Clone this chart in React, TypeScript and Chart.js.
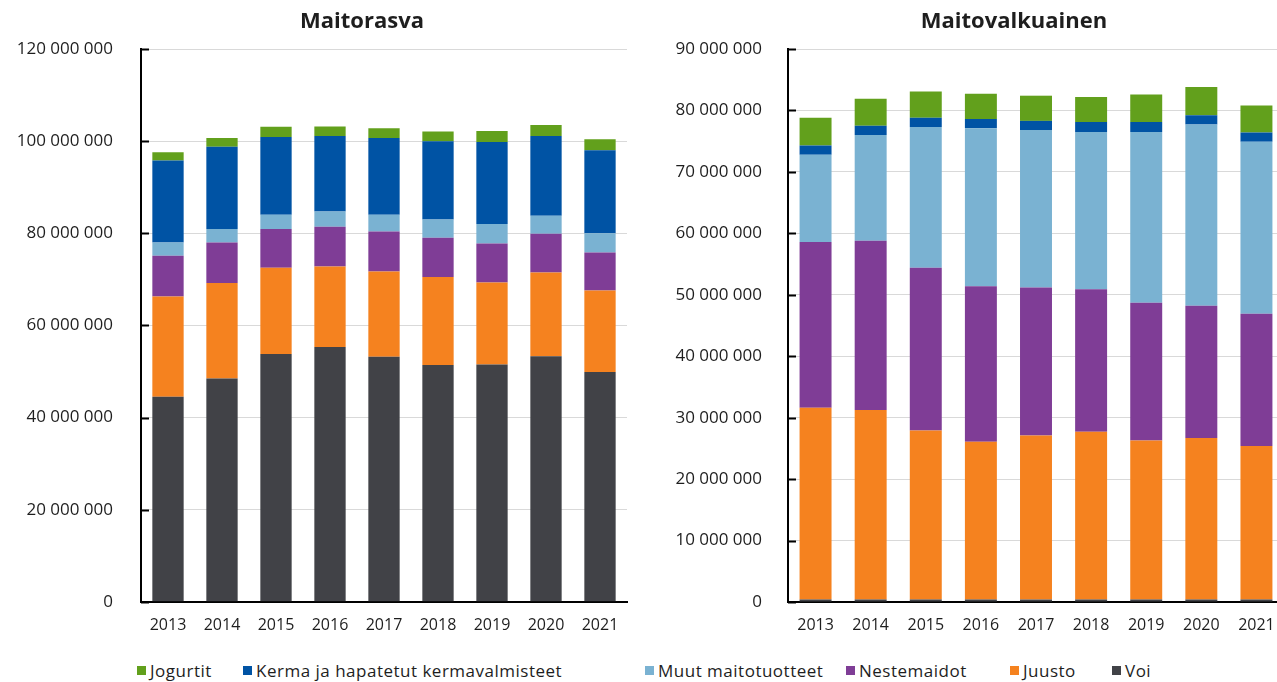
import React, { useEffect, useRef } from "react";
import { Chart, registerables } from "chart.js";

Chart.register(...registerables);

const years = ["2013", "2014", "2015", "2016", "2017", "2018", "2019", "2020", "2021"];

const seriesNames = ["Voi", "Juusto", "Nestemaidot", "Muut maitotuotteet", "Kerma ja hapatetut kermavalmisteet", "Jogurtit"];
const seriesColors = ["#414247", "#f5821f", "#7f3d96", "#7ab2d2", "#0053a4", "#62a01c"];
const legendOrder = [5, 4, 3, 2, 1, 0];

// Maitorasva (million units)
const rasvaVoi = [44.5, 48.5, 53.8, 55.3, 53.2, 51.4, 51.5, 53.3, 49.9];
const rasvaJuusto = [21.8, 20.7, 18.7, 17.5, 18.5, 19.1, 17.8, 18.2, 17.7];
const rasvaNeste = [8.8, 8.8, 8.4, 8.6, 8.7, 8.5, 8.5, 8.4, 8.2];
const rasvaMuut = [2.9, 2.9, 3.1, 3.3, 3.6, 4.0, 4.2, 3.9, 4.2];
const rasvaKerma = [17.8, 17.9, 16.9, 16.4, 16.7, 17.0, 17.8, 17.3, 18.0];
const rasvaJogurtit = [1.8, 1.9, 2.2, 2.1, 2.1, 2.1, 2.4, 2.4, 2.4];

// Maitovalkuainen (million units)
const valkVoi = [0.4, 0.4, 0.4, 0.4, 0.4, 0.4, 0.4, 0.4, 0.4];
const valkJuusto = [31.2, 30.85, 27.5, 25.7, 26.7, 27.3, 25.9, 26.3, 25.0];
const valkNeste = [27.0, 27.55, 26.5, 25.3, 24.1, 23.2, 22.4, 21.5, 21.5];
const valkMuut = [14.2, 17.2, 22.9, 25.7, 25.6, 25.6, 27.8, 29.5, 28.0];
const valkKerma = [1.5, 1.5, 1.5, 1.5, 1.5, 1.6, 1.6, 1.5, 1.5];
const valkJogurtit = [4.5, 4.4, 4.3, 4.1, 4.1, 4.1, 4.5, 4.6, 4.4];

const rasvaSeries = [rasvaVoi, rasvaJuusto, rasvaNeste, rasvaMuut, rasvaKerma, rasvaJogurtit];
const valkSeries = [valkVoi, valkJuusto, valkNeste, valkMuut, valkKerma, valkJogurtit];

const rasvaMax = 120000000;
const rasvaStep = 20000000;
const valkMax = 90000000;
const valkStep = 10000000;

const FONT = "'Open Sans', sans-serif";
const TEXT = "#1e1e1e";

function fmt(v: number): string {
  return String(Math.round(v)).replace(/\B(?=(\d{3})+(?!\d))/g, " ");
}

const innerTicks = {
  id: "innerTicks",
  afterDatasetsDraw(chart: any) {
    const y = chart.scales.y;
    const ctx = chart.ctx;
    const left = chart.chartArea.left;
    ctx.save();
    ctx.strokeStyle = "#000";
    ctx.lineWidth = 2;
    y.ticks.forEach((t: any) => {
      const py = Math.round(y.getPixelForValue(t.value)) + 0.5;
      ctx.beginPath();
      ctx.moveTo(left, py);
      ctx.lineTo(left + 8, py);
      ctx.stroke();
    });
    ctx.restore();
  },
};

const offsetTitle = {
  id: "offsetTitle",
  afterDraw(chart: any, _args: any, opts: any) {
    const ctx = chart.ctx;
    const area = chart.chartArea;
    ctx.save();
    ctx.font = "bold 22px " + FONT;
    ctx.fillStyle = TEXT;
    ctx.textAlign = "center";
    ctx.textBaseline = "middle";
    ctx.fillText(opts.text, (area.left + area.right) / 2 + opts.shift, 22);
    ctx.restore();
  },
};

function makeConfig(title: string, series: number[][], max: number, step: number, yWidth: number, labelPad: number, padRight: number) {
  return {
    type: "bar" as const,
    data: {
      labels: years,
      datasets: series.map((s, i) => ({
        label: seriesNames[i],
        data: s.map((v) => v * 1000000),
        backgroundColor: seriesColors[i],
        borderWidth: 0,
        barPercentage: 0.58,
        categoryPercentage: 1,
      })),
    },
    options: {
      animation: false,
      responsive: false,
      maintainAspectRatio: false,
      layout: { padding: { left: 0, right: padRight, top: 49, bottom: 0 } },
      plugins: {
        legend: { display: false },
        tooltip: { enabled: false },
        title: { display: false },
        offsetTitle: { text: title, shift: -22 },
      },
      scales: {
        x: {
          stacked: true,
          grid: { display: false, drawTicks: false },
          border: { display: true, color: "#000", width: 2 },
          ticks: { color: TEXT, font: { family: FONT, size: 16 }, padding: 14, maxRotation: 0 },
          afterFit(scale: any) {
            scale.height = 38;
          },
        },
        y: {
          stacked: true,
          min: 0,
          max: max,
          grid: { color: "#d9d9d9", lineWidth: 1, drawTicks: false },
          border: { display: true, color: "#000", width: 2 },
          ticks: {
            stepSize: step,
            color: TEXT,
            font: { family: FONT, size: 17 },
            padding: labelPad,
            callback: (v: any) => fmt(Number(v)),
          },
          afterFit(scale: any) {
            scale.width = yWidth;
          },
        },
      },
    },
    plugins: [innerTicks, offsetTitle],
  };
}

function BarChart(props: { title: string; series: number[][]; max: number; step: number; yWidth: number; labelPad: number; padRight: number; left: number; width: number }) {
  const ref = useRef<HTMLCanvasElement | null>(null);
  useEffect(() => {
    if (!ref.current) return;
    const chart = new Chart(ref.current, makeConfig(props.title, props.series, props.max, props.step, props.yWidth, props.labelPad, props.padRight) as any);
    return () => chart.destroy();
  }, []);
  return (
    <canvas
      ref={ref}
      width={props.width}
      height={640}
      style={{ position: "absolute", left: props.left, top: 0, width: props.width, height: 640 }}
    />
  );
}

const legendLeft = [137, 243, 645, 846, 1010, 1112];

export default function App() {
  return (
    <div style={{ position: "fixed", left: 0, top: 0, width: 1277, height: 682, overflow: "hidden", background: "#fff" }}>
      <BarChart title="Maitorasva" series={rasvaSeries} max={rasvaMax} step={rasvaStep} yWidth={141} labelPad={28} padRight={13} left={0} width={640} />
      <BarChart title="Maitovalkuainen" series={valkSeries} max={valkMax} step={valkStep} yWidth={138} labelPad={26} padRight={6} left={650} width={640} />
      {legendOrder.map((idx, k) => (
        <div
          key={idx}
          style={{
            position: "absolute",
            left: legendLeft[k],
            top: 659,
            height: 22,
            display: "flex",
            alignItems: "center",
            fontFamily: FONT,
            fontSize: 17,
            letterSpacing: 0.5,
            color: TEXT,
            whiteSpace: "nowrap",
          }}
        >
          <span style={{ display: "inline-block", width: 9, height: 9, background: seriesColors[idx], marginRight: 4 }} />
          <span>{seriesNames[idx]}</span>
        </div>
      ))}
    </div>
  );
}
